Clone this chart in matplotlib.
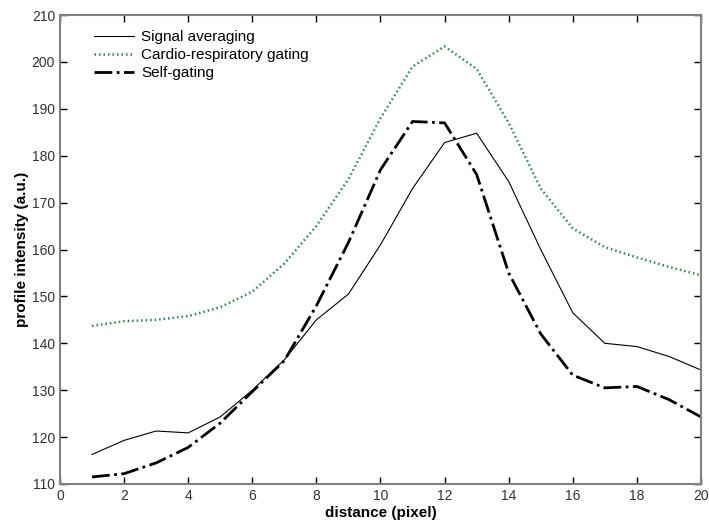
import matplotlib
matplotlib.use("Agg")
import matplotlib.pyplot as plt

plt.rcParams["font.family"] = ["Liberation Sans", "DejaVu Sans"]

# データ
distance = list(range(1, 21))
signal_avg = [116.3, 119.3, 121.3, 120.9, 124.3, 130.0, 136.5, 145.0, 150.5, 161.0,
              173.0, 182.8, 184.8, 174.5, 160.0, 146.5, 140.0, 139.3, 137.2, 134.3]
cardio_resp = [143.7, 144.7, 145.0, 145.8, 147.7, 151.0, 157.0, 165.0, 175.0, 188.0,
               199.0, 203.3, 198.5, 187.0, 173.0, 164.5, 160.5, 158.3, 156.3, 154.5]
self_gating = [111.5, 112.2, 114.5, 117.8, 123.0, 129.7, 136.3, 148.0, 161.5, 177.0,
               187.3, 187.0, 176.0, 155.0, 142.0, 133.2, 130.5, 130.8, 128.0, 124.3]

fig = plt.figure(figsize=(7.09, 5.25), dpi=100)
ax = fig.add_axes([0.0846, 0.0781, 0.9041, 0.8933])

ax.plot(distance, signal_avg, color="black", lw=0.8, label="Signal averaging")
ax.plot(distance, cardio_resp, color="#1f8a4c", lw=1.8, ls=(0, (0.6, 1.2)),
        label="Cardio-respiratory gating")
ax.plot(distance, self_gating, color="black", lw=2.0, ls="dashdot", label="Self-gating")

ax.set_xlim(0, 20)
ax.set_ylim(110, 210)
ax.set_xticks(range(0, 21, 2))
ax.set_yticks(range(110, 211, 10))

for s in ax.spines.values():
    s.set_color("#808080")
    s.set_linewidth(1.5)
ax.tick_params(direction="in", top=True, right=True, length=5, width=1,
               color="black", labelcolor="#333333", labelsize=10)

ax.set_xlabel("distance (pixel)", fontsize=11, fontweight="bold", labelpad=2)
ax.set_ylabel("profile intensity (a.u.)", fontsize=11, fontweight="bold", labelpad=2)

ax.legend(loc="upper left", frameon=False, fontsize=11, handlelength=2.6,
          handletextpad=0.45, labelspacing=0.25, borderaxespad=0.6,
          bbox_to_anchor=(0.03, 1.0))

fig.savefig("out.png", dpi=100)
